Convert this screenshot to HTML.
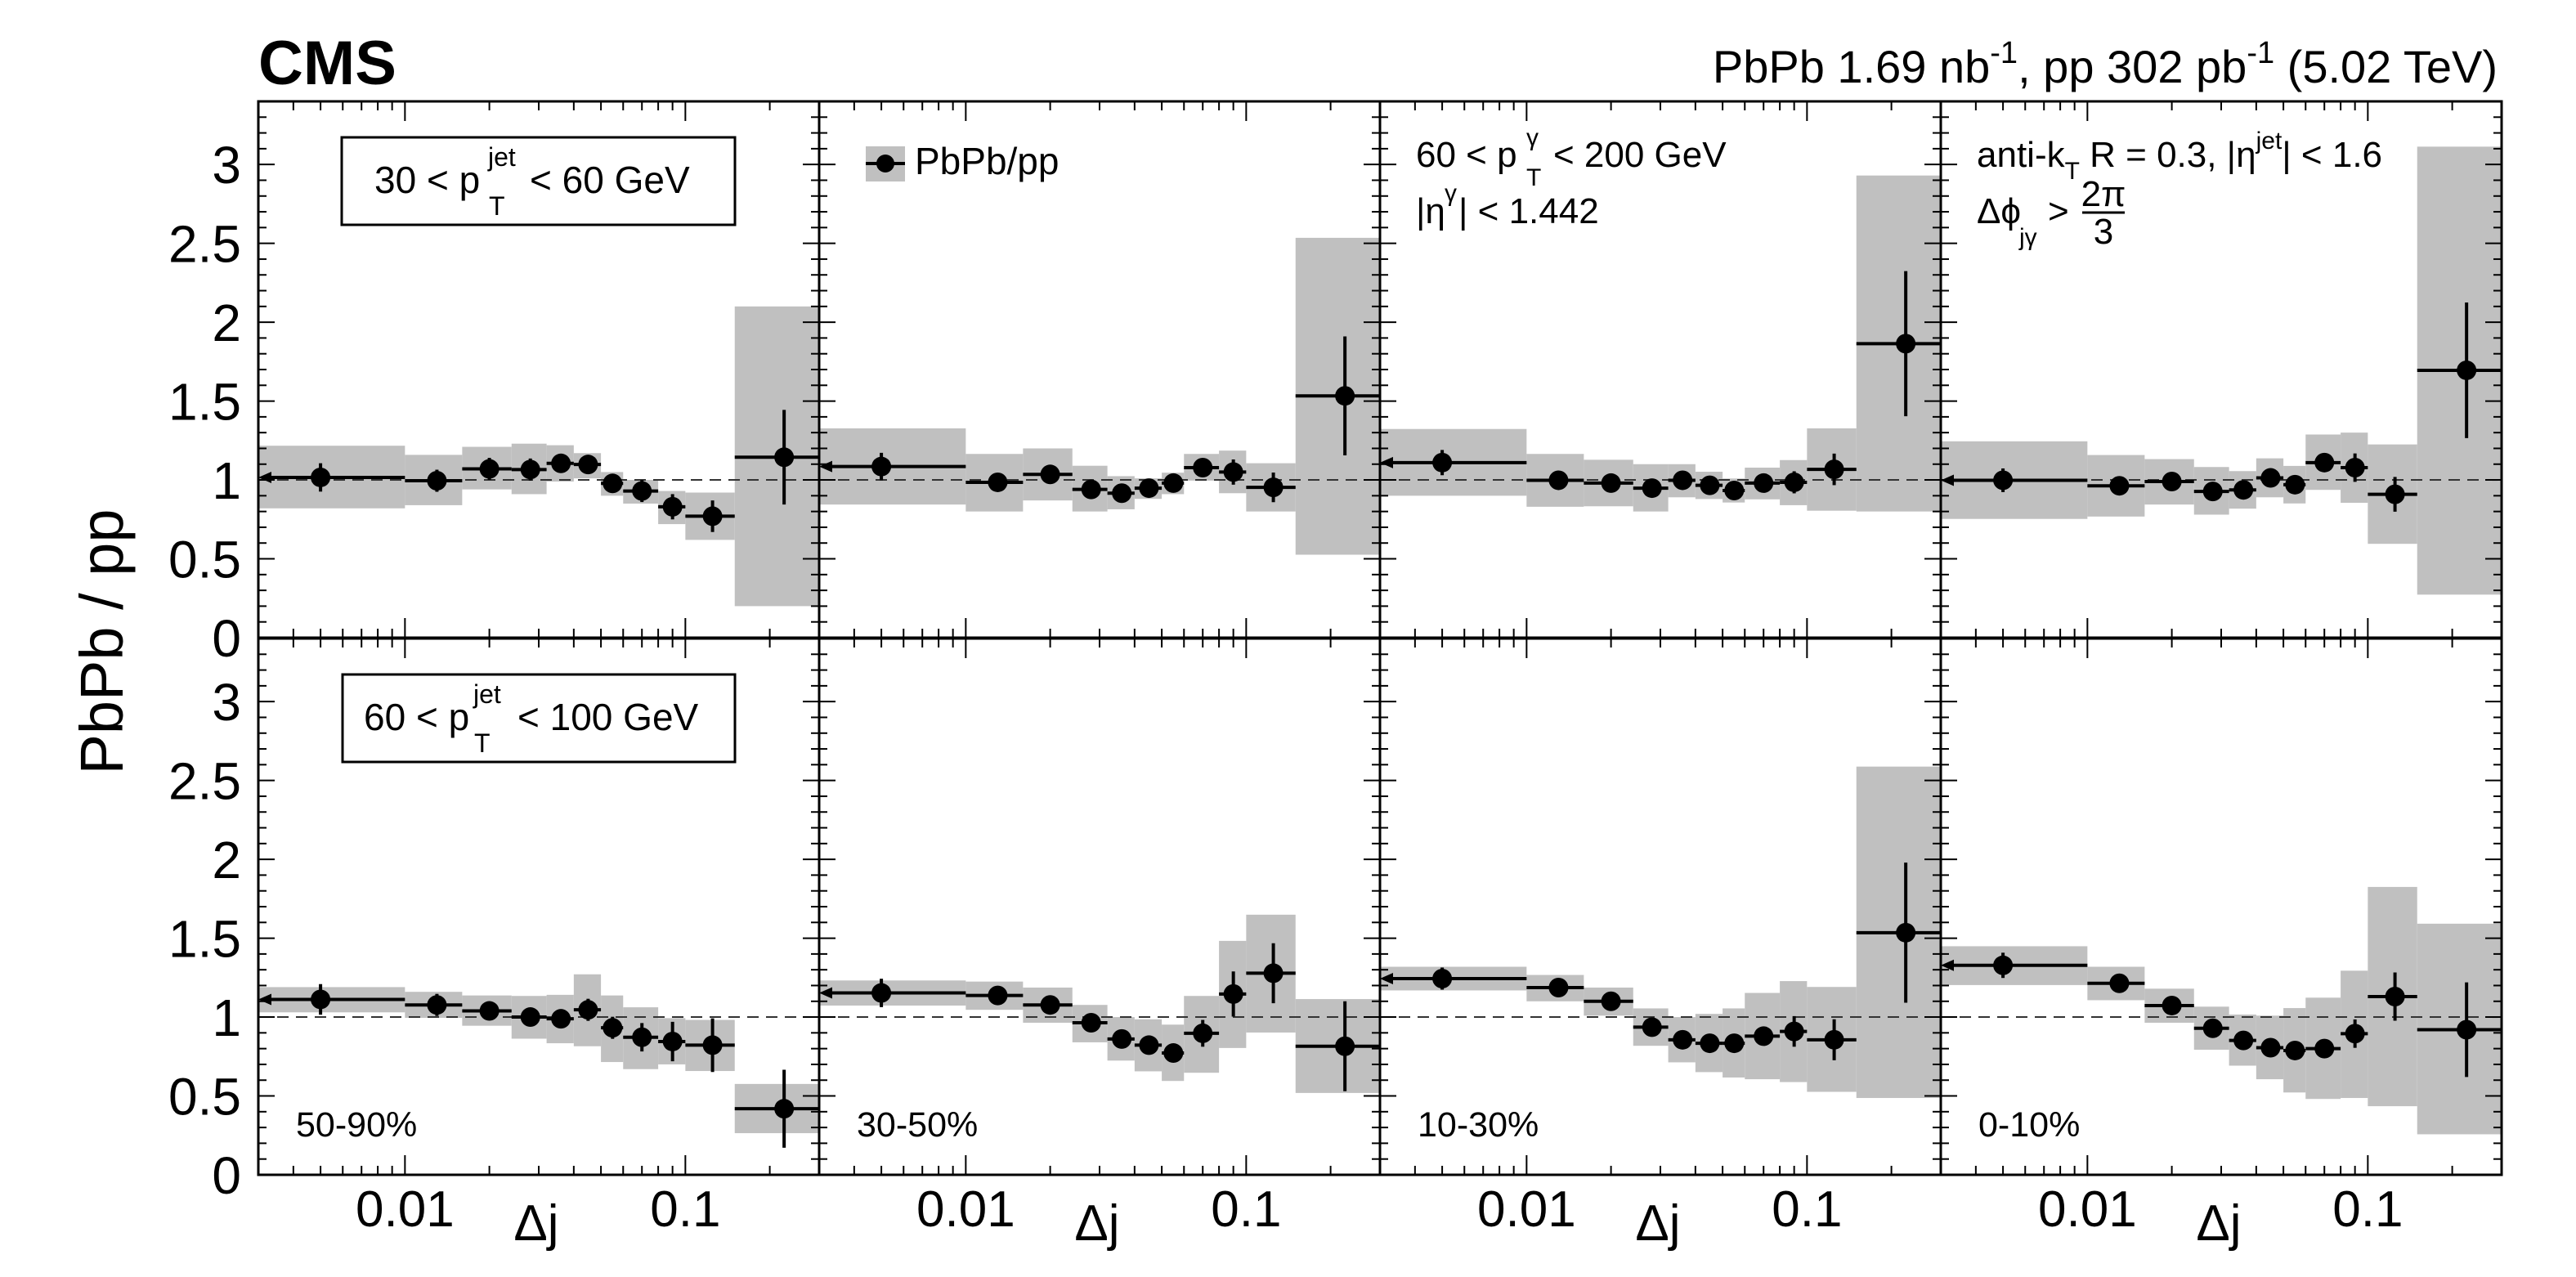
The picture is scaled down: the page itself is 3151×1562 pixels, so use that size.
<!DOCTYPE html>
<html><head><meta charset="utf-8"><title>CMS PbPb/pp</title>
<style>
html,body{margin:0;padding:0;background:#fff;}
svg{display:block;font-family:"Liberation Sans",Arial,sans-serif;}
</style></head>
<body>
<svg id="chart" xmlns="http://www.w3.org/2000/svg" width="3151" height="1562" viewBox="0 0 3151 1562">
<rect x="0" y="0" width="3151" height="1562" fill="#fff"/>
<g id="marks"></g>
<g id="labels">
<text x="316" y="103" font-size="76" font-weight="bold">CMS</text>
<text x="3055" y="101" font-size="56" text-anchor="end">PbPb 1.69 nb<tspan font-size="38" dy="-24">-1</tspan><tspan dy="24">, pp 302 pb</tspan><tspan font-size="38" dy="-24">-1</tspan><tspan dy="24"> (5.02 TeV)</tspan></text>
<text transform="translate(150,785) rotate(-90)" font-size="74" text-anchor="middle">PbPb / pp</text>

<rect x="418" y="168" width="481" height="107" fill="#fff" stroke="#000" stroke-width="3"/>
<text x="458" y="236" font-size="46">30 &lt; p<tspan x="597" y="203" font-size="32">jet</tspan><tspan x="598" y="263" font-size="32">T</tspan><tspan x="648" y="236">&lt; 60 GeV</tspan></text>

<rect x="419" y="825" width="480" height="107" fill="#fff" stroke="#000" stroke-width="3"/>
<text x="445" y="893" font-size="46">60 &lt; p<tspan x="579" y="860" font-size="32">jet</tspan><tspan x="580" y="920" font-size="32">T</tspan><tspan x="633" y="893">&lt; 100 GeV</tspan></text>

<g>
<rect x="1059" y="179" width="48" height="43" fill="#c0c0c0"/>
<line x1="1059" y1="200" x2="1107" y2="200" stroke="#000" stroke-width="4"/>
<circle cx="1083" cy="200" r="11" fill="#000"/>
<text x="1119" y="213" font-size="46">PbPb/pp</text>
</g>

<text x="1732" y="204" font-size="44">60 &lt; p<tspan x="1867" y="178" font-size="30">γ</tspan><tspan x="1867" y="227" font-size="30">T</tspan><tspan x="1900" y="204">&lt; 200 GeV</tspan></text>
<text x="1732" y="273" font-size="44">|η<tspan x="1767" y="246" font-size="30">γ</tspan><tspan x="1784" y="273">| &lt; 1.442</tspan></text>

<text x="2418" y="204" font-size="44">anti-k<tspan font-size="30" dy="15">T</tspan><tspan dy="-15"> R = 0.3, |η</tspan><tspan font-size="30" dy="-22">jet</tspan><tspan dy="22">| &lt; 1.6</tspan></text>
<text x="2418" y="273" font-size="44">Δϕ<tspan x="2470" y="300" font-size="30">jγ</tspan><tspan x="2505" y="273">&gt;</tspan></text>
<text x="2573" y="252" font-size="44" text-anchor="middle">2π</text>
<line x1="2547" y1="260" x2="2599" y2="260" stroke="#000" stroke-width="3"/>
<text x="2573" y="298" font-size="44" text-anchor="middle">3</text>
</g>
</svg>
<script>
// ---- data ----
const binEdges = [0, 0.01, 0.016, 0.024, 0.032, 0.04, 0.05, 0.06, 0.08, 0.1, 0.15, 0.3];
const centralityLabels = ["50-90%", "30-50%", "10-30%", "0-10%"];
const yTickLabels = ["0", "0.5", "1", "1.5", "2", "2.5", "3"];
const yTickValues = [0, 0.5, 1, 1.5, 2, 2.5, 3];
const xTickLabels = ["0.01", "0.1"];
const xTickValues = [0.01, 0.1];

// top row: 30 < pT jet < 60
const valT1 = [1.016, 0.995, 1.07, 1.066, 1.105, 1.098, 0.978, 0.93, 0.83, 0.77, 1.144];
const errT1 = [0.09, 0.07, 0.07, 0.07, 0.06, 0.06, 0.06, 0.07, 0.08, 0.1, 0.3];
const sysLoT1 = [0.82, 0.84, 0.94, 0.91, 0.99, 1.01, 0.90, 0.85, 0.72, 0.62, 0.2];
const sysHiT1 = [1.217, 1.159, 1.21, 1.23, 1.22, 1.17, 1.05, 1.0, 0.93, 0.92, 2.1];

const valT2 = [1.085, 0.985, 1.035, 0.94, 0.916, 0.948, 0.98, 1.078, 1.05, 0.953, 1.533];
const errT2 = [0.087, 0.03, 0.03, 0.03, 0.03, 0.03, 0.03, 0.04, 0.08, 0.094, 0.377];
const sysLoT2 = [0.844, 0.80, 0.87, 0.80, 0.814, 0.88, 0.91, 0.996, 0.916, 0.80, 0.526];
const sysHiT2 = [1.327, 1.165, 1.20, 1.09, 1.024, 1.01, 1.046, 1.165, 1.186, 1.106, 2.535];

const valT3 = [1.11, 0.998, 0.98, 0.948, 0.998, 0.966, 0.933, 0.98, 0.985, 1.067, 1.864];
const errT3 = [0.08, 0.03, 0.03, 0.03, 0.03, 0.03, 0.03, 0.03, 0.07, 0.1, 0.46];
const sysLoT3 = [0.90, 0.83, 0.833, 0.80, 0.89, 0.879, 0.857, 0.877, 0.84, 0.805, 0.80];
const sysHiT3 = [1.323, 1.165, 1.128, 1.10, 1.10, 1.052, 1.009, 1.078, 1.126, 1.327, 2.93];

const valT4 = [0.998, 0.963, 0.99, 0.927, 0.937, 1.013, 0.97, 1.11, 1.078, 0.909, 1.695];
const errT4 = [0.075, 0.03, 0.03, 0.03, 0.03, 0.04, 0.03, 0.06, 0.09, 0.11, 0.43];
const sysLoT4 = [0.753, 0.768, 0.844, 0.78, 0.818, 0.89, 0.851, 0.937, 0.855, 0.595, 0.273];
const sysHiT4 = [1.245, 1.158, 1.132, 1.082, 1.056, 1.137, 1.089, 1.288, 1.30, 1.225, 3.113];

// bottom row: 60 < pT jet < 100
const valB1 = [1.112, 1.077, 1.039, 1.0, 0.989, 1.046, 0.932, 0.872, 0.845, 0.822, 0.419];
const errB1 = [0.097, 0.07, 0.04, 0.04, 0.04, 0.07, 0.07, 0.09, 0.125, 0.17, 0.247];
const sysLoB1 = [1.03, 0.995, 0.945, 0.863, 0.834, 0.815, 0.715, 0.67, 0.70, 0.658, 0.264];
const sysHiB1 = [1.19, 1.16, 1.137, 1.134, 1.141, 1.271, 1.137, 1.062, 0.993, 0.982, 0.576];

const valB2 = [1.153, 1.137, 1.077, 0.964, 0.861, 0.822, 0.772, 0.897, 1.146, 1.278, 0.815];
const errB2 = [0.09, 0.03, 0.03, 0.03, 0.03, 0.03, 0.03, 0.085, 0.143, 0.19, 0.285];
const sysLoB2 = [1.073, 1.046, 0.964, 0.84, 0.724, 0.656, 0.595, 0.647, 0.804, 0.902, 0.519];
const sysHiB2 = [1.232, 1.225, 1.187, 1.077, 1.0, 0.986, 0.952, 1.134, 1.483, 1.649, 1.114];

const valB3 = [1.244, 1.187, 1.10, 0.936, 0.856, 0.834, 0.834, 0.879, 0.909, 0.856, 1.535];
const errB3 = [0.07, 0.03, 0.03, 0.03, 0.03, 0.03, 0.03, 0.05, 0.097, 0.13, 0.444];
const sysLoB3 = [1.169, 1.10, 1.009, 0.818, 0.713, 0.651, 0.617, 0.606, 0.588, 0.526, 0.487];
const sysHiB3 = [1.319, 1.267, 1.187, 1.055, 1.0, 1.02, 1.055, 1.153, 1.228, 1.191, 2.588];

const valB4 = [1.328, 1.214, 1.073, 0.929, 0.852, 0.806, 0.788, 0.80, 0.895, 1.13, 0.92];
const errB4 = [0.08, 0.03, 0.03, 0.03, 0.03, 0.03, 0.03, 0.03, 0.09, 0.153, 0.3];
const sysLoB4 = [1.203, 1.107, 0.964, 0.793, 0.692, 0.606, 0.522, 0.481, 0.487, 0.435, 0.257];
const sysHiB4 = [1.449, 1.319, 1.18, 1.066, 1.016, 1.009, 1.057, 1.123, 1.294, 1.825, 1.592];

const panelSeries = [
  [valT1, errT1, sysLoT1, sysHiT1], [valT2, errT2, sysLoT2, sysHiT2],
  [valT3, errT3, sysLoT3, sysHiT3], [valT4, errT4, sysLoT4, sysHiT4],
  [valB1, errB1, sysLoB1, sysHiB1], [valB2, errB2, sysLoB2, sysHiB2],
  [valB3, errB3, sysLoB3, sysHiB3], [valB4, errB4, sysLoB4, sysHiB4]
];

// ---- layout ----
const NS = "http://www.w3.org/2000/svg";
const colLeft = [316, 1002, 1688, 2374];
const rowTop = [124, 781];
const PW = 686, PH = 656;
const XMIN = 0.003, XMAX = 0.3, YMAX = 3.4;
const marks = document.getElementById("marks");

function mk(tag, attrs) {
  const e = document.createElementNS(NS, tag);
  for (const k in attrs) e.setAttribute(k, attrs[k]);
  return e;
}
function xScale(left, v) {
  const lv = Math.log10(Math.max(v, XMIN));
  return left + (lv - Math.log10(XMIN)) / (Math.log10(XMAX) - Math.log10(XMIN)) * PW;
}
function yScale(top, v) {
  return top + PH - v / YMAX * PH;
}

for (let p = 0; p < 8; p++) {
  const row = Math.floor(p / 4), col = p % 4;
  const L = colLeft[col], T = rowTop[row], B = T + PH, R = L + PW;
  const [vals, errs, lo, hi] = panelSeries[p];
  const g = mk("g", {});
  
  
  marks.appendChild(g);

  for (let i = 0; i < vals.length; i++) {
    const x0 = xScale(L, binEdges[i]), x1 = xScale(L, binEdges[i + 1]);
    const y0 = yScale(T, hi[i]), y1 = yScale(T, lo[i]);
    const r = mk("rect", {x: x0, y: y0, width: x1 - x0, height: y1 - y0, fill: "#c0c0c0"});
    
    
    g.appendChild(r);
  }
  const dl = mk("line", {x1: L, x2: R, y1: yScale(T, 1), y2: yScale(T, 1), stroke: "#333", "stroke-width": 2, "stroke-dasharray": "14 9"});
  
  
  g.appendChild(dl);

  for (let i = 0; i < vals.length; i++) {
    const x0 = xScale(L, binEdges[i]), x1 = xScale(L, binEdges[i + 1]);
    const xc = xScale(L, (binEdges[i] + binEdges[i + 1]) / 2);
    const yc = yScale(T, vals[i]);
    const hl = mk("line", {x1: i === 0 ? x0 + 12 : x0, x2: x1, y1: yc, y2: yc, stroke: "#000", "stroke-width": 4});
    
    
    g.appendChild(hl);
    if (i === 0) {
      const ar = mk("polygon", {points: (x0) + "," + yc + " " + (x0 + 16) + "," + (yc - 7) + " " + (x0 + 16) + "," + (yc + 7), fill: "#000"});
      
      
      g.appendChild(ar);
    }
    const vl = mk("line", {x1: xc, x2: xc, y1: yScale(T, vals[i] + errs[i]), y2: yScale(T, vals[i] - errs[i]), stroke: "#000", "stroke-width": 4});
    
    
    g.appendChild(vl);
    const c = mk("circle", {cx: xc, cy: yc, r: 12, fill: "#000"});
    
    
    g.appendChild(c);
  }

  for (let k = 0; k <= 34; k++) {
    const v = k / 10;
    const y = yScale(T, v);
    const len = (k % 5 === 0) ? 20 : 10;
    const t1 = mk("line", {x1: L, x2: L + len, y1: y, y2: y, stroke: "#000", "stroke-width": 2});
    
    
    g.appendChild(t1);
    const t2 = mk("line", {x1: R, x2: R - len, y1: y, y2: y, stroke: "#000", "stroke-width": 2});
    
    
    g.appendChild(t2);
  }
  const xt = [];
  for (let m = 4; m <= 9; m++) xt.push([m * 0.001, 11]);
  xt.push([0.01, 24]);
  for (let m = 2; m <= 9; m++) xt.push([m * 0.01, 11]);
  xt.push([0.1, 24]);
  xt.push([0.2, 11]);
  for (const [v, len] of xt) {
    const x = xScale(L, v);
    const a = mk("line", {x1: x, x2: x, y1: B, y2: B - len, stroke: "#000", "stroke-width": 2});
    
    
    g.appendChild(a);
    const b = mk("line", {x1: x, x2: x, y1: T, y2: T + len, stroke: "#000", "stroke-width": 2});
    
    
    g.appendChild(b);
  }
  const fr = mk("rect", {x: L, y: T, width: PW, height: PH, fill: "none", stroke: "#000", "stroke-width": 3});
  
  
  g.appendChild(fr);

  if (row === 1) {
    const cl = mk("text", {x: L + 46, y: 1390, "font-size": 43});
    cl.textContent = centralityLabels[col];
    
    
    g.appendChild(cl);
    for (let j = 0; j < xTickValues.length; j++) {
      const tl = mk("text", {x: xScale(L, xTickValues[j]), y: 1500, "font-size": 62, "text-anchor": "middle"});
      tl.textContent = xTickLabels[j];
      
      
      g.appendChild(tl);
    }
    const xa = mk("text", {x: L + 340, y: 1517, "font-size": 62, "text-anchor": "middle"});
    xa.textContent = "Δj";
    
    
    g.appendChild(xa);
  }
  if (col === 0) {
    for (let j = 0; j < yTickValues.length; j++) {
      const yl = mk("text", {x: 295, y: yScale(T, yTickValues[j]) + 23, "font-size": 64, "text-anchor": "end"});
      yl.textContent = yTickLabels[j];
      
      
      g.appendChild(yl);
    }
  }
}
</script>
</body></html>
